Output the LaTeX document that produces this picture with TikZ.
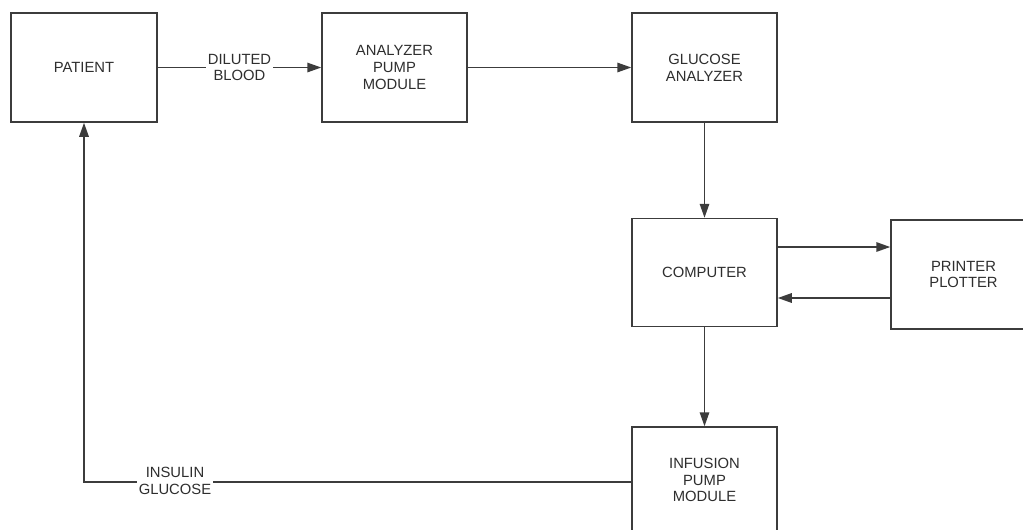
\documentclass[tikz,border=0pt]{standalone}
\usepackage{fontspec}
\setmainfont{Liberation Sans}
\usetikzlibrary{arrows.meta,calc}
\definecolor{linec}{HTML}{3C3C3C}
\definecolor{textc}{HTML}{2E2E2E}
\begin{document}
\begin{tikzpicture}[x=1pt,y=-1pt,
  blk/.style={draw=linec,line width=1.5pt,fill=white,minimum width=145pt,minimum height=108pt,
    inner sep=0pt,align=center,text=textc,font=\fontsize{14.8}{16.8}\selectfont},
  lbl/.style={fill=white,inner sep=1.5pt,align=center,text=textc,font=\fontsize{14.8}{16.8}\selectfont},
  arr/.style={draw=linec,line width=1.5pt,-{Triangle[length=14pt,width=9.5pt]}},
  ln/.style={draw=linec,line width=1.5pt}]
\clip (0,0) rectangle (1023,530);
\fill[white] (0,0) rectangle (1023,530);
\node[blk,minimum width=146pt,minimum height=109pt] (patient) at (84,67.5) {PATIENT};
\node[blk,minimum height=109pt] (pump) at (394.5,67.5) {ANALYZER\\PUMP\\MODULE};
\node[blk,minimum height=109pt] (gluc) at (704.5,67.5) {GLUCOSE\\ANALYZER};
\node[blk] (comp) at (704.5,272.5) {COMPUTER};
\node[blk,minimum height=109pt] (print) at (963.5,274.5) {PRINTER\\PLOTTER};
\node[blk,minimum height=106pt] (inf) at (704.5,480) {INFUSION\\PUMP\\MODULE};
\draw[arr] (patient.east) -- node[lbl] (dil) {DILUTED\\BLOOD} (pump.west);
\draw[arr] (pump.east) -- (gluc.west);
\draw[arr] (gluc.south) -- (comp.north);
\draw[arr] ([yshift=25.5pt]comp.east) -- ([yshift=25.5pt]comp.east -| print.west);
\draw[arr] ([yshift=-25.5pt]comp.east -| print.west) -- ([yshift=-25.5pt]comp.east);
\draw[arr] (comp.south) -- (inf.north);
\coordinate (infout) at ([yshift=-2pt]inf.west);
\coordinate (corner) at (patient.south |- infout);
\draw[arr] (infout) -- (corner) -- (patient.south);
\node[lbl] (ins) at (175,480.5) {INSULIN\\GLUCOSE};
\end{tikzpicture}
\end{document}
